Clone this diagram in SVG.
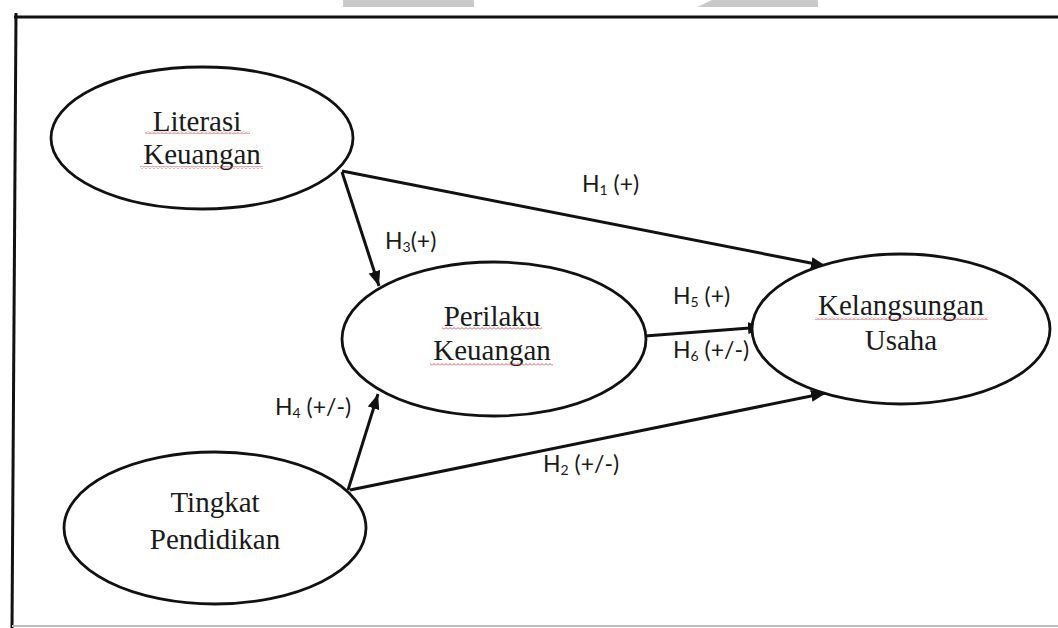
<svg xmlns="http://www.w3.org/2000/svg" width="1058" height="628" viewBox="0 0 1058 628">
  <style>
    .node { fill: #ffffff; stroke: #111111; stroke-width: 2.8; }
    .name { font-family: "Liberation Serif", "Times New Roman", serif; font-size: 29px; fill: #1a1a1a; text-anchor: middle; }
    .edge { stroke: #111111; stroke-width: 3; fill: none; marker-end: url(#arrow); }
    .lbl { font-family: Lato, "Liberation Sans", sans-serif; font-size: 23px; fill: #1a1a1a; }
    .sub { font-size: 14px; }
    .squig { fill: url(#wave); }
  </style>
  <defs>
    <marker id="arrow" markerUnits="userSpaceOnUse" markerWidth="16" markerHeight="12" refX="15" refY="6" orient="auto">
      <path d="M0,0 L15,6 L0,12 z" fill="#111111"/>
    </marker>
    <pattern id="wave" patternUnits="userSpaceOnUse" width="4" height="3">
      <path d="M0,2.5 L2,0.5 L4,2.5" fill="none" stroke="#d04848" stroke-width="0.9"/>
    </pattern>
  </defs>

  <rect width="1058" height="628" fill="#ffffff"/>

  <!-- grey tabs along the top edge -->
  <rect x="343" y="0" width="131" height="7" fill="#c9c9c9"/>
  <polygon points="712,0 818,0 818,7 697,7" fill="#c9c9c9"/>

  <!-- frame -->
  <line x1="14" y1="17" x2="1058" y2="17" stroke="#111111" stroke-width="3"/>
  <line x1="16" y1="13" x2="12" y2="628" stroke="#111111" stroke-width="3"/>
  <line x1="12" y1="626" x2="1058" y2="626" stroke="#bdbdbd" stroke-width="2"/>

  <!-- connectors -->
  <g id="connectors">
    <line class="edge" x1="342" y1="171" x2="826" y2="266"/>
    <line class="edge" x1="342" y1="172" x2="379" y2="286"/>
    <line class="edge" x1="645" y1="336" x2="763" y2="327"/>
    <line class="edge" x1="350" y1="490" x2="826" y2="393"/>
    <line class="edge" x1="348" y1="490" x2="378" y2="394"/>

    <text class="lbl" x="582" y="192">H<tspan class="sub" dy="3">1</tspan><tspan dy="-3"> (+)</tspan></text>
    <text class="lbl" x="385" y="249">H<tspan class="sub" dy="3">3</tspan><tspan dy="-3">(+)</tspan></text>
    <text class="lbl" x="673" y="304">H<tspan class="sub" dy="3">5</tspan><tspan dy="-3"> (+)</tspan></text>
    <text class="lbl" x="673" y="358">H<tspan class="sub" dy="3">6</tspan><tspan dy="-3"> (+/-)</tspan></text>
    <text class="lbl" x="275" y="415">H<tspan class="sub" dy="3">4</tspan><tspan dy="-3"> (+/-)</tspan></text>
    <text class="lbl" x="543" y="472">H<tspan class="sub" dy="3">2</tspan><tspan dy="-3"> (+/-)</tspan></text>
  </g>

  <g id="literasi-keuangan">
    <ellipse class="node" cx="202" cy="138" rx="151" ry="71"/>
    <text class="name" x="197" y="131">Literasi</text>
    <text class="name" x="202" y="164">Keuangan</text>
    <rect class="squig" x="145" y="131" width="105" height="3"/>
    <rect class="squig" x="140" y="166" width="123" height="3"/>
  </g>

  <g id="perilaku-keuangan">
    <ellipse class="node" cx="494" cy="339" rx="152" ry="77"/>
    <text class="name" x="492" y="326">Perilaku</text>
    <text class="name" x="492" y="360">Keuangan</text>
    <rect class="squig" x="442" y="327" width="100" height="3"/>
    <rect class="squig" x="430" y="363" width="123" height="3"/>
  </g>

  <g id="kelangsungan-usaha">
    <ellipse class="node" cx="901" cy="329" rx="149" ry="75"/>
    <text class="name" x="901" y="315">Kelangsungan</text>
    <text class="name" x="901" y="350">Usaha</text>
    <rect class="squig" x="815" y="317" width="173" height="3"/>
  </g>

  <g id="tingkat-pendidikan">
    <ellipse class="node" cx="215" cy="528" rx="151" ry="76"/>
    <text class="name" x="215" y="512">Tingkat</text>
    <text class="name" x="215" y="549">Pendidikan</text>
  </g>
</svg>
